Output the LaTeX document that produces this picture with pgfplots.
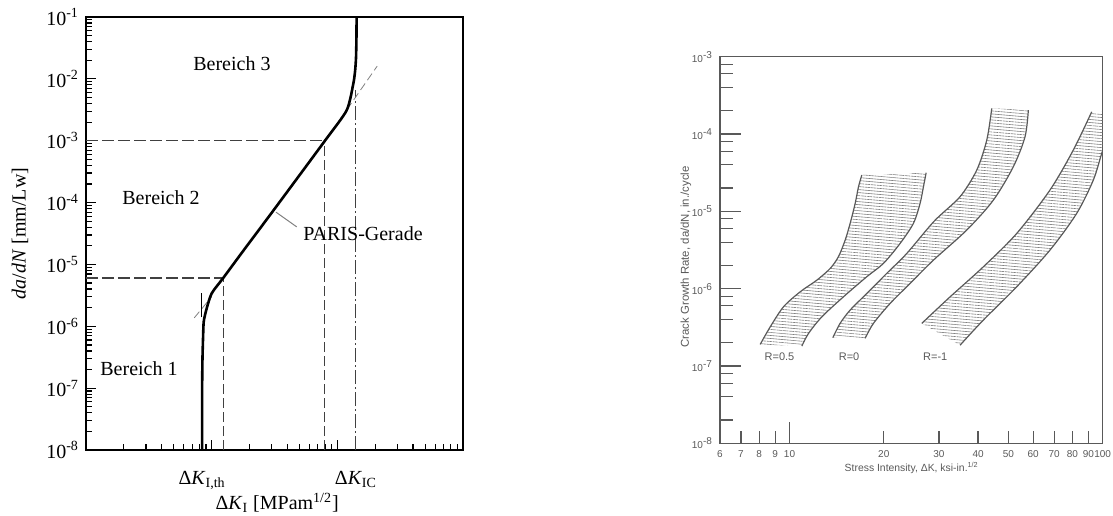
\documentclass[border=0pt]{standalone}
\usepackage{fontspec}
\setmainfont{Liberation Serif}
\setsansfont{Liberation Sans}
\usepackage{pgfplots}
\pgfplotsset{compat=1.18}
\usetikzlibrary{patterns.meta}

\definecolor{scan}{gray}{0.35}
\definecolor{hatch}{gray}{0.5}
\definecolor{dashc}{gray}{0.25}

\begin{document}
\begin{tikzpicture}
\useasboundingbox (0,0) rectangle (556.5pt,-257.5pt);

% ---- left: schematic da/dN curve
\begin{axis}[
  at={(43pt,-225pt)}, anchor=south west,
  scale only axis, width=188.5pt, height=216.5pt,
  xmode=log, ymode=log,
  xmin=1, xmax=1000, ymin=1e-8, ymax=1e-1,
  axis line style={line width=0.6pt},
  tick style={black, line width=0.6pt},
  tick align=inside, xtick pos=bottom, ytick pos=left,
  major tick length=5pt, minor tick length=3pt,
  xtick={1,10,100,1000}, xticklabels={,,,},
  minor xtick={2,3,4,5,6,7,8,9,20,30,40,50,60,70,80,90,200,300,400,500,600,700,800,900},
  ytick={1e-8,1e-7,1e-6,1e-5,1e-4,1e-3,1e-2,1e-1},
  yticklabels={10\textsuperscript{-8},10\textsuperscript{-7},10\textsuperscript{-6},10\textsuperscript{-5},10\textsuperscript{-4},10\textsuperscript{-3},10\textsuperscript{-2},10\textsuperscript{-1}},
  minor ytick={2e-8,3e-8,4e-8,5e-8,6e-8,7e-8,8e-8,9e-8,
    2e-7,3e-7,4e-7,5e-7,6e-7,7e-7,8e-7,9e-7,
    2e-6,3e-6,4e-6,5e-6,6e-6,7e-6,8e-6,9e-6,
    2e-5,3e-5,4e-5,5e-5,6e-5,7e-5,8e-5,9e-5,
    2e-4,3e-4,4e-4,5e-4,6e-4,7e-4,8e-4,9e-4,
    2e-3,3e-3,4e-3,5e-3,6e-3,7e-3,8e-3,9e-3,
    2e-2,3e-2,4e-2,5e-2,6e-2,7e-2,8e-2,9e-2},
  ylabel={\textit{da}/\textit{dN} [mm/Lw]},
  ylabel style={at={(axis description cs:-0.175,0.5)}, anchor=center},
  xlabel={Δ\textit{K}\textsubscript{I} [MPam\textsuperscript{1/2}]},
  xlabel style={at={(axis description cs:0.507,-0.122)}, anchor=center},
  clip=false,
]
% guide lines
\addplot[dashc, line width=0.5pt, dash pattern=on 6pt off 2pt] coordinates {(1,1e-3) (79.7,1e-3)};
\addplot[dashc, line width=0.5pt, dash pattern=on 5pt off 2pt] coordinates {(79.7,1e-8) (79.7,1e-3)};
\addplot[dashc, line width=0.9pt, dash pattern=on 6pt off 2pt] coordinates {(1,6.08e-6) (12.4,6.08e-6)};
\addplot[dashc, line width=0.5pt, dash pattern=on 5pt off 2pt] coordinates {(12.4,1e-8) (12.4,6.08e-6)};
\addplot[dashc, line width=0.5pt, dash pattern=on 7pt off 1.5pt on 1pt off 1.5pt] coordinates {(140.6,1e-8) (140.6,6.5e-3)};
% PARIS line extensions
\addplot[gray, line width=0.4pt, dash pattern=on 4pt off 2pt] coordinates {(105,2.2e-3) (207.6,0.0161)};
\addplot[gray, line width=0.4pt, dash pattern=on 4pt off 2pt] coordinates {(7.27,1.37e-6) (10.0,3.0e-6)};
\addplot[black, line width=0.5pt] coordinates {(8.32,1.4e-6) (8.32,3.4e-6)};
% main curve
\addplot[black, line width=1.3pt, smooth, tension=0.4] coordinates {
  (8.40,1e-8) (8.40,1e-7) (8.45,3e-7) (8.55,7e-7) (8.65,1.2e-6)
  (9.1,1.9e-6) (10.0,3.4e-6) (12.4,6.1e-6) (17.8,1.65e-5) (30.9,7.4e-5)
  (79.7,1e-3) (118.6,3.1e-3) (133.9,8.3e-3)
  (138.5,0.0135) (140.8,0.022) (141.9,0.045) (142.3,0.1)
};
% pointer to PARIS-Gerade
\addplot[gray, line width=0.5pt] coordinates {(32.5,7.0e-5) (47.5,4.05e-5)};
\node at (axis cs:14.5,0.0178) {Bereich 3};
\node at (axis cs:3.95,1.18e-4) {Bereich 2};
\node at (axis cs:2.64,2.1e-7) {Bereich 1};
\node[anchor=west, inner sep=0pt] at (axis cs:53.3,3.2e-5) {PARIS-Gerade};
\node[anchor=north, inner sep=0pt, yshift=-10.5pt] at (axis cs:8.4,1e-8) {Δ\textit{K}\textsubscript{I,th}};
\node[anchor=north, inner sep=0pt, yshift=-10.5pt] at (axis cs:140.6,1e-8) {Δ\textit{K}\textsubscript{IC}};
\end{axis}

% ---- right: scanned band chart
\begin{axis}[
  at={(360pt,-221.65pt)}, anchor=south west,
  scale only axis, width=191.35pt, height=193.3pt,
  xmode=log, ymode=log,
  xmin=6, xmax=100, ymin=1e-8, ymax=1e-3,
  axis line style={scan, line width=0.7pt},
  tick style={scan, line width=0.6pt},
  tick align=inside, xtick pos=bottom, ytick pos=left,
  major tick length=6pt, minor tick length=6.3pt,
  xtick={6,7,8,9,10,20,30,40,50,60,70,80,90,100},
  xticklabels={6,7,8,9,10,20,30,40,50,60,70,80,90,100},
  ytick={1e-8,1e-7,1e-6,1e-5,1e-4,1e-3},
  yticklabels={10\textsuperscript{-8},10\textsuperscript{-7},10\textsuperscript{-6},10\textsuperscript{-5},10\textsuperscript{-4},10\textsuperscript{-3}},
  minor ytick={2e-8,4e-8,6e-8,8e-8,2e-7,4e-7,6e-7,8e-7,2e-6,4e-6,6e-6,8e-6,2e-5,4e-5,6e-5,8e-5,2e-4,4e-4,6e-4,8e-4},
  extra x ticks={10}, extra x tick labels={{}},
  extra y ticks={1e-7,1e-6,1e-5,1e-4}, extra y tick labels={{},{},{},{}},
  extra tick style={major tick length=10.6pt, line width=0.9pt},
  tick label style={font=\sffamily\fontsize{5}{6}\selectfont, text=scan},
  ylabel={Crack Growth Rate, da/dN, in./cycle},
  ylabel style={font=\sffamily\fontsize{5.7}{6}\selectfont, text=scan, at={(axis description cs:-0.089,0.482)}, anchor=center},
  xlabel={Stress Intensity, ΔK, ksi-in.\textsuperscript{1/2}},
  xlabel style={font=\sffamily\fontsize{5.2}{6}\selectfont, text=scan, at={(axis description cs:0.501,-0.064)}, anchor=center},
]
% hatched areas: left edge upwards, right edge downwards
\addplot[draw=none, pattern={Lines[angle=-5, distance=1.5pt, line width=0.3pt]}, pattern color=hatch] coordinates {
  (8.06,1.90e-7) (8.68,3.21e-7) (9.57,5.83e-7) (10.82,9.12e-7) (12.23,1.29e-6) (13.49,1.83e-6)
  (14.33,2.59e-6) (15.06,4.25e-6) (15.62,7.00e-6) (16.21,1.27e-5) (16.61,2.08e-5) (17.02,2.95e-5)
  (27.31,3.16e-5) (26.77,2.08e-5) (26.12,1.27e-5) (24.87,7.00e-6) (22.55,3.85e-6) (19.95,2.12e-6)
  (17.66,1.43e-6) (14.87,7.85e-7) (12.69,4.33e-7) (11.50,2.64e-7) (10.95,1.81e-7)};
\addplot[draw=none, pattern={Lines[angle=-5, distance=1.5pt, line width=0.3pt]}, pattern color=hatch] coordinates {
  (13.75,2.32e-7) (14.51,3.56e-7) (15.62,5.29e-7) (17.66,8.69e-7) (20.45,1.58e-6) (23.69,2.86e-6)
  (29.0,7.5e-6) (35.05,1.55e-5) (39.63,3.42e-5) (42.65,8.36e-5) (44.24,2.15e-4)
  (57.89,2.04e-4) (56.50,9.23e-5) (51.84,3.78e-5) (44.77,1.40e-5) (36.81,5.73e-6) (28.81,2.34e-6)
  (24.27,1.17e-6) (20.96,6.45e-7) (18.54,3.56e-7) (17.44,2.28e-7)};
\addplot[draw=none, pattern={Lines[angle=-5, distance=1.5pt, line width=0.3pt]}, pattern color=hatch] coordinates {
  (26.45,3.56e-7) (32.57,7.85e-7) (41.59,1.92e-6) (53.16,5.19e-6) (67.89,1.89e-5) (80.56,6.21e-5) (92.24,1.94e-4)
  (110,1.94e-4) (105.5,1.13e-4) (99.3,5.63e-5) (93.33,2.54e-5) (82.6,9.42e-6) (67.89,3.16e-6)
  (53.16,1.06e-6) (41.59,3.93e-7) (35.05,1.86e-7)};
% band edges
\addplot[scan, line width=0.6pt, smooth, tension=0.5] coordinates {
  (8.06,1.90e-7) (8.68,3.21e-7) (9.57,5.83e-7) (10.82,9.12e-7) (12.23,1.29e-6) (13.49,1.83e-6)
  (14.33,2.59e-6) (15.06,4.25e-6) (15.62,7.00e-6) (16.21,1.27e-5) (16.61,2.08e-5) (17.02,2.95e-5)};
\addplot[scan, line width=0.6pt, smooth, tension=0.5] coordinates {
  (10.95,1.81e-7) (11.50,2.64e-7) (12.69,4.33e-7) (14.87,7.85e-7) (17.66,1.43e-6) (19.95,2.12e-6)
  (22.55,3.85e-6) (24.87,7.00e-6) (26.12,1.27e-5) (26.77,2.08e-5) (27.31,3.16e-5)};
\addplot[scan, line width=0.6pt, smooth, tension=0.5] coordinates {
  (13.75,2.32e-7) (14.51,3.56e-7) (15.62,5.29e-7) (17.66,8.69e-7) (20.45,1.58e-6) (23.69,2.86e-6)
  (29.0,7.5e-6) (35.05,1.55e-5) (39.63,3.42e-5) (42.65,8.36e-5) (44.24,2.15e-4)};
\addplot[scan, line width=0.6pt, smooth, tension=0.5] coordinates {
  (17.44,2.28e-7) (18.54,3.56e-7) (20.96,6.45e-7) (24.27,1.17e-6) (28.81,2.34e-6) (36.81,5.73e-6)
  (44.77,1.40e-5) (51.84,3.78e-5) (56.50,9.23e-5) (57.89,2.04e-4)};
\addplot[scan, line width=0.6pt, smooth, tension=0.5] coordinates {
  (26.45,3.56e-7) (32.57,7.85e-7) (41.59,1.92e-6) (53.16,5.19e-6) (67.89,1.89e-5) (80.56,6.21e-5) (92.24,1.94e-4)};
\addplot[scan, line width=0.6pt, smooth, tension=0.5] coordinates {
  (35.05,1.86e-7) (41.59,3.93e-7) (53.16,1.06e-6) (67.89,3.16e-6) (82.6,9.42e-6) (93.33,2.54e-5)
  (99.3,5.63e-5) (105.5,1.13e-4)};
\node[font=\sffamily\fontsize{5.5}{6}\selectfont, text=scan] at (axis cs:9.29,1.31e-7) {R=0.5};
\node[font=\sffamily\fontsize{5.5}{6}\selectfont, text=scan] at (axis cs:15.5,1.31e-7) {R=0};
\node[font=\sffamily\fontsize{5.5}{6}\selectfont, text=scan] at (axis cs:29.2,1.31e-7) {R=-1};
\end{axis}
\end{tikzpicture}
\end{document}
